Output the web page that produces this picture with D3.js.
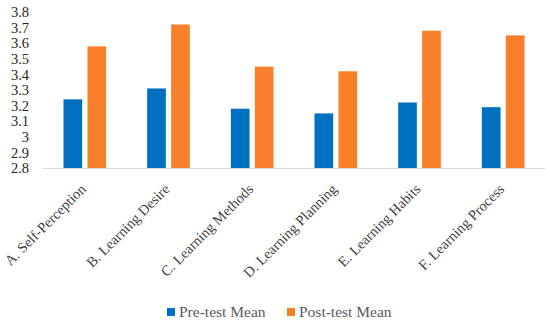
<!DOCTYPE html>
<html><head><meta charset="utf-8">
<script src="https://cdn.jsdelivr.net/npm/d3@7"></script>
<style>body{margin:0;background:#fff}svg{display:block}svg text{font-family:"Liberation Serif",serif}</style>
</head><body>
<svg id="c" width="550" height="325"></svg>
<script>
const categories = ["A. Self-Perception","B. Learning Desire","C. Learning Methods","D. Learning Planning","E. Learning Habits","F. Learning Process"];
const series = ["Pre-test Mean","Post-test Mean"];
const preTest = [3.24,3.31,3.18,3.15,3.22,3.19];
const postTest = [3.58,3.72,3.45,3.42,3.68,3.65];
const yTicks = [2.8,2.9,3,3.1,3.2,3.3,3.4,3.5,3.6,3.7,3.8];
const colors = ["#0070C0","#F9802A"];

const svg = d3.select("#c");
const m = {l:43, r:5, t:12, b:157};
const W = 550, H = 325;
const x0 = d3.scaleBand().domain(categories).range([m.l, W-m.r]).padding(0);
const bw = x0.bandwidth();
const x1 = d3.scaleBand().domain(series).range([bw*0.245, bw*0.755]).paddingInner(0.22);
const y = d3.scaleLinear().domain([2.8,3.8]).range([H-m.b, m.t]);

const data = categories.map((c,i)=>({c, v:[preTest[i], postTest[i]]}));

const g = svg.selectAll("g.grp").data(data).enter().append("g")
  .attr("transform", d=>`translate(${x0(d.c)},0)`);
g.selectAll("rect").data(d=>d.v.map((v,j)=>({s:series[j], v, j}))).enter().append("rect")
  .attr("x", d=>x1(d.s)).attr("width", x1.bandwidth())
  .attr("y", d=>y(d.v)).attr("height", d=>y(2.8)-y(d.v))
  .attr("fill", d=>colors[d.j]);

svg.append("line").attr("x1", m.l).attr("x2", W-m.r)
  .attr("y1", y(2.8)+0.5).attr("y2", y(2.8)+0.5)
  .attr("stroke", "#d9d9d9").attr("stroke-width", 1);

const ya = svg.append("g").attr("transform", `translate(${m.l-14},0)`)
  .call(d3.axisLeft(y).tickValues(yTicks).tickSize(0).tickPadding(0).tickFormat(d3.format("")));
ya.attr("font-family", null);
ya.select(".domain").remove();
ya.selectAll("text").attr("font-size", 14.5).attr("fill", "#262626");

const xa = svg.append("g").attr("transform", `translate(0,${y(2.8)})`)
  .call(d3.axisBottom(x0).tickSize(0).tickPadding(0));
xa.attr("font-family", null);
xa.select(".domain").remove();
xa.selectAll("text").attr("font-size", 14.5).attr("fill", "#404040")
  .attr("text-anchor", "end").attr("dy", 0)
  .attr("transform", "translate(2,22) rotate(-45)");

const lg = svg.append("g").attr("transform", "translate(0,312)");
const lx = [167, 287];
series.forEach((s,i)=>{
  lg.append("rect").attr("x", lx[i]).attr("y", -4).attr("width", 8).attr("height", 8).attr("fill", colors[i]);
  lg.append("text").attr("x", lx[i]+12).attr("y", 5).text(s)
    .attr("font-size", 15.5).attr("fill", "#595959");
});
</script>
</body></html>
